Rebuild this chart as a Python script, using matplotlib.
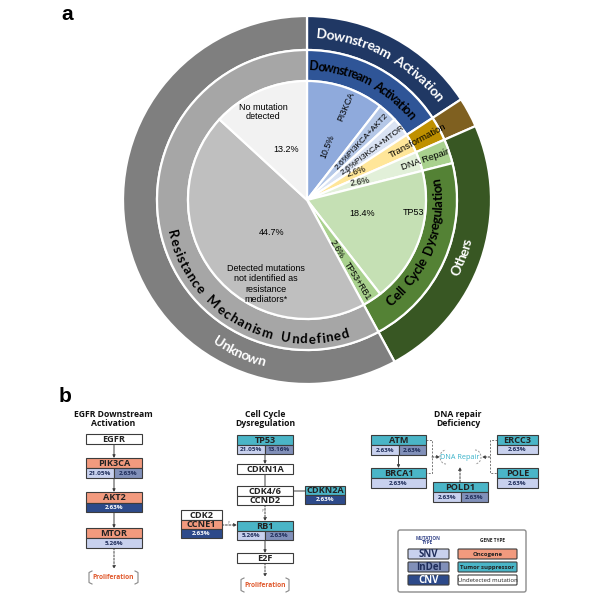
import matplotlib
matplotlib.use('Agg')
import matplotlib.pyplot as plt
import numpy as np
from matplotlib.patches import Rectangle, FancyBboxPatch, Arc
from matplotlib.font_manager import FontProperties, findfont, get_font

# ---------------- data: panel a ----------------
inner_labels = ["PI3KCA", "PI3KCA+AKT2", "PI3KCA+MTOR", "Transformation", "DNA Repair",
                "TP53", "TP53+RB1", "Detected mutations\nnot identified as\nresistance\nmediators*",
                "No mutation\ndetected"]
inner_counts = [4, 1, 1, 1, 1, 7, 1, 17, 5]
inner_pct = ["10.5%", "2.6%", "2.6%", "2.6%", "2.6%", "18.4%", "2.6%", "44.7%", "13.2%"]
inner_colors = ["#8faadc", "#b4c7e7", "#dae3f3", "#ffe699", "#e2f0d9",
                "#c5e0b4", "#a9d18e", "#bfbfbf", "#f2f2f2"]

middle_labels = ["Downstream Activation", "Transformation", "DNA Repair",
                 "Cell Cycle Dysregulation", "Resistance Mechanism Undefined"]
middle_counts = [6, 1, 1, 8, 22]
middle_colors = ["#2f5597", "#bf9000", "#a9d18e", "#548235", "#a6a6a6"]

outer_labels = ["Downstream Activation", "", "Others", "Unknown"]
outer_counts = [6, 1, 9, 22]
outer_colors = ["#203864", "#7f6020", "#385723", "#7f7f7f"]

# ---------------- data: panel b ----------------
mut_types = ["SNV", "InDel", "CNV"]
mut_colors = {"SNV": "#c8d1ee", "InDel": "#8190b9", "CNV": "#2d4a8a"}
mut_text = {"SNV": "#1f2d5a", "InDel": "#1f2d5a", "CNV": "white"}
gene_types = ["Oncogene", "Tumor suppressor", "Undetected mutation"]
gene_colors = {"Oncogene": "#f29a7e", "Tumor suppressor": "#4ab5c7", "Undetected mutation": "white"}

egfr_genes = ["EGFR", "PIK3CA", "AKT2", "MTOR"]
egfr_kind = ["Undetected mutation", "Oncogene", "Oncogene", "Oncogene"]
egfr_vals = [[], [("SNV", "21.05%"), ("InDel", "2.63%")], [("CNV", "2.63%")], [("SNV", "5.26%")]]

cc_genes = ["TP53", "CDKN1A", "CDKN2A", "CCNE1", "RB1", "E2F"]
cc_kind = ["Tumor suppressor", "Undetected mutation", "Tumor suppressor", "Oncogene",
           "Tumor suppressor", "Undetected mutation"]
cc_vals = [[("SNV", "21.05%"), ("InDel", "13.16%")], [], [("CNV", "2.63%")], [("CNV", "2.63%")],
           [("SNV", "5.26%"), ("InDel", "2.63%")], []]

dna_genes = ["ATM", "BRCA1", "ERCC3", "POLE", "POLD1"]
dna_kind = ["Tumor suppressor"] * 5
dna_vals = [[("SNV", "2.63%"), ("InDel", "2.63%")], [("SNV", "2.63%")], [("SNV", "2.63%")],
            [("SNV", "2.63%")], [("SNV", "2.63%"), ("InDel", "2.63%")]]

# ---------------- figure ----------------
fig = plt.figure(figsize=(6.0, 6.01), dpi=100)
ax2 = fig.add_axes([0, 0, 1, 1])
ax2.set_xlim(0, 600)
ax2.set_ylim(601, 0)
ax2.axis('off')
ax2.patch.set_alpha(0)

# pie axes: 1 data unit = 1 pixel, centre at pixel (307, 200)
CX, CY, H = 307, 200, 207
ax = fig.add_axes([(CX - H) / 600, (601 - CY - H) / 601, 2 * H / 600, 2 * H / 601])
R_OUT, R_MID, R_IN = 184, 150, 119
wp = dict(edgecolor='white', linewidth=1.6)
ax.pie(outer_counts, radius=R_OUT, colors=outer_colors, startangle=90, counterclock=False,
       wedgeprops=dict(width=R_OUT - R_MID, **wp))
ax.pie(middle_counts, radius=R_MID, colors=middle_colors, startangle=90, counterclock=False,
       wedgeprops=dict(width=R_MID - R_IN, **wp))
ax.pie(inner_counts, radius=R_IN, colors=inner_colors, startangle=90, counterclock=False,
       wedgeprops=dict(**wp))
ax.set_xlim(-H, H)
ax.set_ylim(-H, H)
ax.set_aspect('auto')
ax.axis('off')

RING_FONT = 'Lato'
ARIAL = 'Liberation Sans'
PANEL_FONT = 'Open Sans'


def advances(s, fp):
    font = get_font(findfont(fp))
    font.set_size(fp.get_size_in_points(), 72)
    adv = []
    for c in s:
        a = font.load_char(ord(c)).linearHoriAdvance / 65536.0
        if c == ' ':
            a *= 2.0
        adv.append(a)
    return np.array(adv)


def curved_text(s, r, a0, a1, fs, color, outward=True, weight='bold', family=RING_FONT):
    fp = FontProperties(family=family, weight=weight, size=fs)
    adv = advances(s, fp)
    cen = np.cumsum(adv) - adv / 2
    t = (cen - cen[0]) / (cen[-1] - cen[0])
    angs = a0 + t * (a1 - a0)
    fpx = fs * 100 / 72
    rb = r - 0.34 * fpx if outward else r + 0.34 * fpx
    for ch, a in zip(s, angs):
        if ch == ' ':
            continue
        th = np.radians(a)
        rot = -a if outward else 180 - a
        ax.text(rb * np.sin(th), rb * np.cos(th), ch, rotation=rot, rotation_mode='anchor',
                ha='center', va='baseline', fontsize=fs, color=color, fontweight=weight,
                family=family)


def polar_text(s, r, a, rot, fs=6.3, color='black', **kw):
    th = np.radians(a)
    ax.text(r * np.sin(th), r * np.cos(th), s, rotation=rot, rotation_mode='anchor',
            ha='center', va='center', fontsize=fs, color=color, family=ARIAL, **kw)


# ring labels
curved_text(outer_labels[0], 167, 5, 51.7, 10, 'white', outward=True)
curved_text(middle_labels[0], 134, 3, 50.5, 9, 'black', outward=True)
curved_text(middle_labels[4], 139, 256, 164, 9.5, 'black', outward=False)
curved_text(outer_labels[3], 167, 212, 196, 10, 'white', outward=False)
curved_text(outer_labels[2], 165, 115, 104.6, 10, 'white', outward=False)
curved_text(middle_labels[3], 131, 140, 82, 9.5, 'black', outward=False)

# radial labels in middle ring
polar_text(middle_labels[1], 125, 62, 28, fs=6.8)
polar_text(middle_labels[2], 125, 71.3, 19, fs=6.8)

# inner labels
polar_text(inner_labels[0], 101, 23, 67)
polar_text(inner_pct[0], 57, 21.5, 68.5)
polar_text(inner_pct[1] + inner_labels[1], 80, 43, 47, fs=6.0)
polar_text(inner_pct[2] + inner_labels[2], 82, 53, 37, fs=6.0)
polar_text(inner_pct[3], 57, 60.5, 18)
polar_text(inner_pct[4], 56, 71, 10)
ax.text(54.7, -13.3, inner_pct[5], ha='center', va='center', fontsize=6.5, family=ARIAL)
ax.text(106.3, -12.3, inner_labels[5], ha='center', va='center', fontsize=6.5, family=ARIAL)
polar_text(inner_pct[6], 57, 148.7, -58.7)
polar_text(inner_labels[6], 96, 148, -58)
ax.text(-35.7, -32.3, inner_pct[7], ha='center', va='center', fontsize=6.5, family=ARIAL)
ax.text(-40.7, -84, inner_labels[7], ha='center', va='center', fontsize=6.5, family=ARIAL,
        linespacing=1.15)
ax.text(-21.3, 51, inner_pct[8], ha='center', va='center', fontsize=6.5, family=ARIAL)
ax.text(-44, 88, inner_labels[8], ha='center', va='center', fontsize=6.5, family=ARIAL,
        linespacing=1.05)

# panel letters
ax2.text(67, 15, 'a', fontsize=15, fontweight='bold', ha='center', va='center', family='Liberation Sans')
ax2.text(65, 396, 'b', fontsize=15, fontweight='bold', ha='center', va='center', family='Liberation Sans')

# ---------------- panel b ----------------
EDGE = '#3c3c3c'
ARROW = '#3c3c3c'


def gene_box(x0, x1, y0, y1, name, kind, vals, vh=9.5, fs=6.6):
    ax2.add_patch(Rectangle((x0, y0), x1 - x0, y1 - y0, facecolor=gene_colors[kind],
                            edgecolor=EDGE, lw=0.8, zorder=3))
    ax2.text((x0 + x1) / 2, (y0 + y1) / 2 + 0.4, name, ha='center', va='center', fontsize=fs,
             fontweight='bold', family=PANEL_FONT, color='#222222', zorder=4)
    n = len(vals)
    for i, (mt, v) in enumerate(vals):
        xa = x0 + (x1 - x0) * i / n
        xb = x0 + (x1 - x0) * (i + 1) / n
        ax2.add_patch(Rectangle((xa, y1), xb - xa, vh, facecolor=mut_colors[mt],
                                edgecolor=EDGE, lw=0.8, zorder=3))
        ax2.text((xa + xb) / 2, y1 + vh / 2 + 0.3, v, ha='center', va='center', fontsize=4.6,
                 fontweight='bold', family=PANEL_FONT, color=mut_text[mt], zorder=4)


def arrow(p0, p1, dashed=False, head=True):
    ax2.annotate('', xy=p1, xytext=p0,
                 arrowprops=dict(arrowstyle='-|>' if head else '-', color=ARROW, lw=0.7,
                                 mutation_scale=4, shrinkA=0, shrinkB=0,
                                 linestyle=(0, (2, 1.5)) if dashed else '-'), zorder=2)


def bracket(x0, x1, y0, y1, text):
    c = '#888888'
    ax2.plot([x0 + 3, x0, x0, x0 + 3], [y0, y0 + 1.5, y1 - 1.5, y1], color=c, lw=0.8)
    ax2.plot([x1 - 3, x1, x1, x1 - 3], [y0, y0 + 1.5, y1 - 1.5, y1], color=c, lw=0.8)
    ax2.text((x0 + x1) / 2, (y0 + y1) / 2 + 0.3, text, ha='center', va='center', fontsize=4.8,
             fontweight='bold', color='#e0582c', family=PANEL_FONT)


title_kw = dict(ha='center', va='center', fontsize=6.2, fontweight='bold', family=PANEL_FONT,
                linespacing=1.1, color='#111111')
ax2.text(113, 419, 'EGFR Downstream\nActivation', **title_kw)
ax2.text(265, 419, 'Cell Cycle\nDysregulation', **title_kw)
ax2.text(458, 419, 'DNA repair\nDeficiency', **title_kw)

# column 1
c1 = (86, 142)
gene_box(*c1, 434, 444, egfr_genes[0], egfr_kind[0], egfr_vals[0])
gene_box(*c1, 458, 468, egfr_genes[1], egfr_kind[1], egfr_vals[1])
gene_box(*c1, 492, 502.5, egfr_genes[2], egfr_kind[2], egfr_vals[2])
gene_box(*c1, 528, 538, egfr_genes[3], egfr_kind[3], egfr_vals[3])
xm = 114
arrow((xm, 444), (xm, 458))
arrow((xm, 478), (xm, 492))
arrow((xm, 512), (xm, 528))
arrow((xm, 548), (xm, 569), dashed=True)
bracket(89, 138, 571, 584, 'Proliferation')

# column 2
c2 = (237, 293)
xm = 265
gene_box(*c2, 435, 444.5, cc_genes[0], cc_kind[0], cc_vals[0])
gene_box(*c2, 464, 474, cc_genes[1], cc_kind[1], cc_vals[1])
gene_box(*c2, 486, 495.5, 'CDK4/6', 'Undetected mutation', [])
gene_box(*c2, 495.5, 505, 'CCND2', 'Undetected mutation', [])
gene_box(305, 345, 486, 495, cc_genes[2], cc_kind[2], cc_vals[2], vh=8.5)
gene_box(181, 222, 510, 520, 'CDK2', 'Undetected mutation', [])
gene_box(181, 222, 520, 529, cc_genes[3], cc_kind[3], cc_vals[3], vh=9)
gene_box(*c2, 521, 530.5, cc_genes[4], cc_kind[4], cc_vals[4])
gene_box(*c2, 553, 563, cc_genes[5], cc_kind[5], cc_vals[5])
arrow((xm, 454), (xm, 464))
arrow((xm, 474), (xm, 486), head=False)
arrow((293, 491), (305, 491), head=False)
arrow((xm, 505), (xm, 521), dashed=True)
arrow((222, 525), (237, 525), dashed=True)
ax2.text(xm - 2.5, 511, 'P', fontsize=2.5, color='#888888', ha='center', va='center')
ax2.text(229, 523, 'P', fontsize=2.5, color='#888888', ha='center', va='center')
arrow((xm, 540), (xm, 553))
arrow((xm, 563), (xm, 577), dashed=True)
bracket(241, 289, 578, 592, 'Proliferation')

# column 3
gene_box(371, 426, 435, 445, dna_genes[0], dna_kind[0], dna_vals[0])
gene_box(371, 426, 468, 478, dna_genes[1], dna_kind[1], dna_vals[1])
gene_box(497, 538, 435, 445, dna_genes[2], dna_kind[2], dna_vals[2], vh=8.5)
gene_box(497, 538, 468, 478, dna_genes[3], dna_kind[3], dna_vals[3])
gene_box(433, 488, 482, 492, dna_genes[4], dna_kind[4], dna_vals[4])
arrow((398.5, 454), (398.5, 468))
dash = (0, (2, 1.5))
ax2.plot([426, 432, 432, 426], [440, 440, 473, 473], color='#777777', lw=0.7, linestyle=dash)
ax2.plot([497, 490, 490, 497], [440, 440, 473, 473], color='#777777', lw=0.7, linestyle=dash)
arrow((432, 457), (440, 457), dashed=True)
arrow((490, 457), (482, 457), dashed=True)
arrow((460, 482), (460, 467), dashed=True)
ax2.add_patch(Arc((446, 457), 12, 14, theta1=90, theta2=270, color='#999999', lw=0.7, linestyle=dash))
ax2.add_patch(Arc((475, 457), 12, 14, theta1=-90, theta2=90, color='#999999', lw=0.7, linestyle=dash))
ax2.text(460, 457.5, 'DNA Repair', ha='center', va='center', fontsize=5.2, color='#39b2c9',
         family=PANEL_FONT)

# legend
ax2.add_patch(FancyBboxPatch((398, 530), 128, 62, boxstyle='round,pad=0,rounding_size=2',
                             facecolor='white', edgecolor='#8c8c8c', lw=1.0))
ax2.text(428, 540.5, 'MUTATION\nTYPE', ha='center', va='center', fontsize=3.4, fontweight='bold',
         color='#3a4a8c', family=PANEL_FONT, linespacing=1.0)
ax2.text(492, 541, 'GENE TYPE', ha='center', va='center', fontsize=3.4, fontweight='bold',
         color='#222222', family=PANEL_FONT)
ys = [549, 562, 575]
for mt, y in zip(mut_types, ys):
    ax2.add_patch(FancyBboxPatch((408, y), 41, 10, boxstyle='round,pad=0,rounding_size=1',
                                 facecolor=mut_colors[mt], edgecolor=EDGE, lw=0.8))
    ax2.text(428.5, y + 5.3, mt, ha='center', va='center', fontsize=7, fontweight='bold',
             color=mut_text[mt] if mt == 'CNV' else '#1f2d5a', family=PANEL_FONT)
for gt, y in zip(gene_types, ys):
    ax2.add_patch(FancyBboxPatch((458, y), 59, 10, boxstyle='round,pad=0,rounding_size=1',
                                 facecolor=gene_colors[gt], edgecolor=EDGE, lw=0.8))
    ax2.text(487.5, y + 5.3, gt, ha='center', va='center', fontsize=4.3,
             fontweight='bold' if gt != 'Undetected mutation' else 'normal',
             color='#222222', family=PANEL_FONT)

fig.savefig('out.png', dpi=100, facecolor='white')
